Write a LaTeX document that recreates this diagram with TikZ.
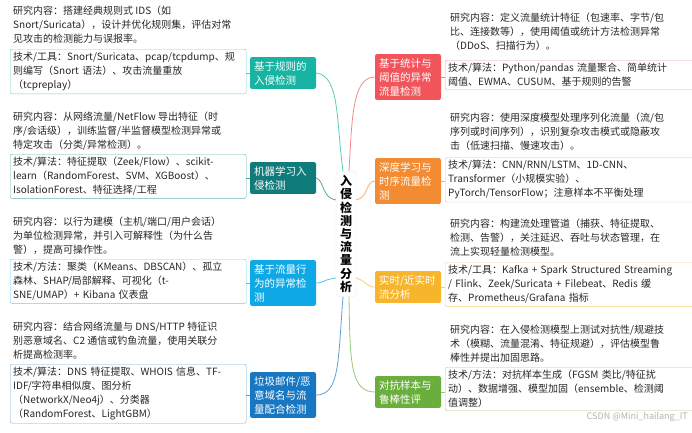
\documentclass[tikz,border=0pt]{standalone}
\usepackage{fontspec}
\setmainfont{Noto Sans CJK SC}
\definecolor{cA}{HTML}{17B3A3}
\definecolor{cB}{HTML}{0F7B7A}
\definecolor{cC}{HTML}{0FA8E6}
\definecolor{cD}{HTML}{1877C2}
\definecolor{cE}{HTML}{F2545B}
\definecolor{cF}{HTML}{F38B32}
\definecolor{cG}{HTML}{F7B52C}
\definecolor{cH}{HTML}{6AAF3D}
\tikzset{
 br/.style={fill=#1,text=white,rounded corners=2pt,text width=58pt,inner sep=4pt,align=left,font=\fontsize{10.5}{14}\selectfont},
 res/.style={anchor=north west,align=left,inner sep=0pt,font=\fontsize{10}{14}\selectfont,text=black!85},
 tech/.style={draw=#1!60,rounded corners=2pt,anchor=north west,align=left,inner sep=3pt,text width=#1w,font=\fontsize{10}{14}\selectfont,text=black!85},
 lk/.style={draw=#1!70,line width=0.8pt},
}
\newlength{\cAw}\setlength{\cAw}{230pt}
\begin{document}
\begin{tikzpicture}[x=1pt,y=-1pt]
\tikzset{tL/.style={draw=#1!60,rounded corners=2pt,anchor=north west,align=left,inner sep=3pt,text width=230pt,font=\fontsize{10}{14}\selectfont,text=black!85},
 tR/.style={draw=#1!60,rounded corners=2pt,anchor=north west,align=left,inner sep=3pt,text width=270pt,font=\fontsize{10}{14}\selectfont,text=black!85}}
\useasboundingbox (0,0) rectangle (692,432);
\clip (0,0) rectangle (692,432);
% center
\node[draw=black!8,fill=white,rounded corners=3pt,inner sep=4pt,font=\bfseries\fontsize{12}{13.2}\selectfont,align=center] (c) at (346,234) {入\\侵\\检\\测\\与\\流\\量\\分\\析};
% left branches
\node[br=cA] (b1) at (283,73) {基于规则的\\入侵检测};
\node[br=cB] (b2) at (283,178) {机器学习入\\侵检测};
\node[br=cC] (b3) at (283,283) {基于流量行\\为的异常检\\测};
\node[br=cD] (b4) at (283,395) {垃圾邮件/恶\\意域名与流\\量配合检测};
% right branches
\node[br=cE] (b5) at (408,77) {基于统计与\\阈值的异常\\流量检测};
\node[br=cF] (b6) at (408,181) {深度学习与\\时序流量检\\测};
\node[br=cG] (b7) at (408,287) {实时/近实时\\流分析};
\node[br=cH] (b8) at (408,392) {对抗样本与\\鲁棒性评};
% connectors
\draw[lk=cA] (c.north) ++(-3,0) coordinate (c1) .. controls (336,120) and (340,76) .. (b1.east);
\draw[lk=cB] (c.west|-0,200) coordinate (c2) .. controls (322,198) and (324,180) .. (b2.east);
\draw[lk=cC] (c.west|-0,278) coordinate (c3) .. controls (322,280) and (324,283) .. (b3.east);
\draw[lk=cD] (c.south) ++(-3,0) coordinate (c4) .. controls (338,360) and (340,395) .. (b4.east);
\draw[lk=cE] (c.north) ++(3,0) coordinate (c5) .. controls (352,120) and (352,77) .. (b5.west);
\draw[lk=cF] (c.east|-0,200) coordinate (c6) .. controls (368,198) and (366,181) .. (b6.west);
\draw[lk=cG] (c.east|-0,278) coordinate (c7) .. controls (368,282) and (366,287) .. (b7.west);
\draw[lk=cH] (c.south) ++(3,0) coordinate (c8) .. controls (350,360) and (350,392) .. (b8.west);
% left texts
\node[res] (r1) at (13,6) {研究内容：搭建经典规则式 IDS（如\\Snort/Suricata），设计并优化规则集，评估对常\\见攻击的检测能力与误报率。};
\node[tL=cA] (t1) at (10,49) {技术/工具：Snort/Suricata、pcap/tcpdump、规\\则编写（Snort 语法）、攻击流量重放\\（tcpreplay）};
\node[res] (r2) at (13,112) {研究内容：从网络流量/NetFlow 导出特征（时\\序/会话级），训练监督/半监督模型检测异常或\\特定攻击（分类/异常检测）。};
\node[tL=cB] (t2) at (10,154) {技术/算法：特征提取（Zeek/Flow）、scikit-\\learn（RandomForest、SVM、XGBoost）、\\IsolationForest、特征选择/工程};
\node[res] (r3) at (13,217) {研究内容：以行为建模（主机/端口/用户会话）\\为单位检测异常，并引入可解释性（为什么告\\警），提高可操作性。};
\node[tL=cC] (t3) at (10,259) {技术/方法：聚类（KMeans、DBSCAN）、孤立\\森林、SHAP/局部解释、可视化（t-\\SNE/UMAP）+ Kibana 仪表盘};
\node[res] (r4) at (13,322) {研究内容：结合网络流量与 DNS/HTTP 特征识\\别恶意域名、C2 通信或钓鱼流量，使用关联分\\析提高检测率。};
\node[tL=cD] (t4) at (10,364) {技术/算法：DNS 特征提取、WHOIS 信息、TF-\\IDF/字符串相似度、图分析\\（NetworkX/Neo4j）、分类器\\（RandomForest、LightGBM）};
% right texts
\node[res] (r5) at (450,13) {研究内容：定义流量统计特征（包速率、字节/包\\比、连接数等），使用阈值或统计方法检测异常\\（DDoS、扫描行为）。};
\node[tR=cE] (t5) at (445,60) {技术/算法：Python/pandas 流量聚合、简单统计\\阈值、EWMA、CUSUM、基于规则的告警};
\node[res] (r6) at (450,113) {研究内容：使用深度模型处理序列化流量（流/包\\序列或时间序列），识别复杂攻击模式或隐蔽攻\\击（低速扫描、慢速攻击）。};
\node[tR=cF] (t6) at (445,157) {技术/算法：CNN/RNN/LSTM、1D-CNN、\\Transformer（小规模实验）、\\PyTorch/TensorFlow；注意样本不平衡处理};
\node[res] (r7) at (450,219) {研究内容：构建流处理管道（捕获、特征提取、\\检测、告警），关注延迟、吞吐与状态管理，在\\流上实现轻量检测模型。};
\node[tR=cG] (t7) at (445,262) {技术/工具：Kafka + Spark Structured Streaming\\/ Flink、Zeek/Suricata + Filebeat、Redis 缓\\存、Prometheus/Grafana 指标};
\node[res] (r8) at (450,325) {研究内容：在入侵检测模型上测试对抗性/规避技\\术（模糊、流量混淆、特征规避），评估模型鲁\\棒性并提出加固思路。};
\node[tR=cH] (t8) at (445,367) {技术/方法：对抗样本生成（FGSM 类比/特征扰\\动）、数据增强、模型加固（ensemble、检测阈\\值调整）};
% branch to tech links
\draw[lk=cA] (b1.west) -- (t1.east|-b1.west);
\draw[lk=cB] (b2.west) -- (t2.east|-b2.west);
\draw[lk=cC] (b3.west) -- (t3.east|-b3.west);
\draw[lk=cD] (b4.west) -- (t4.east|-b4.west);
\draw[lk=cE] (b5.east) -- (t5.west|-b5.east);
\draw[lk=cF] (b6.east) -- (t6.west|-b6.east);
\draw[lk=cG] (b7.east) -- (t7.west|-b7.east);
\draw[lk=cH] (b8.east) -- (t8.west|-b8.east);
\node[anchor=east,text=black!30,font=\fontsize{9}{10}\selectfont,inner sep=0pt] (wm) at (688,417) {CSDN @Mini\_hailang\_IT};
\end{tikzpicture}
\end{document}
